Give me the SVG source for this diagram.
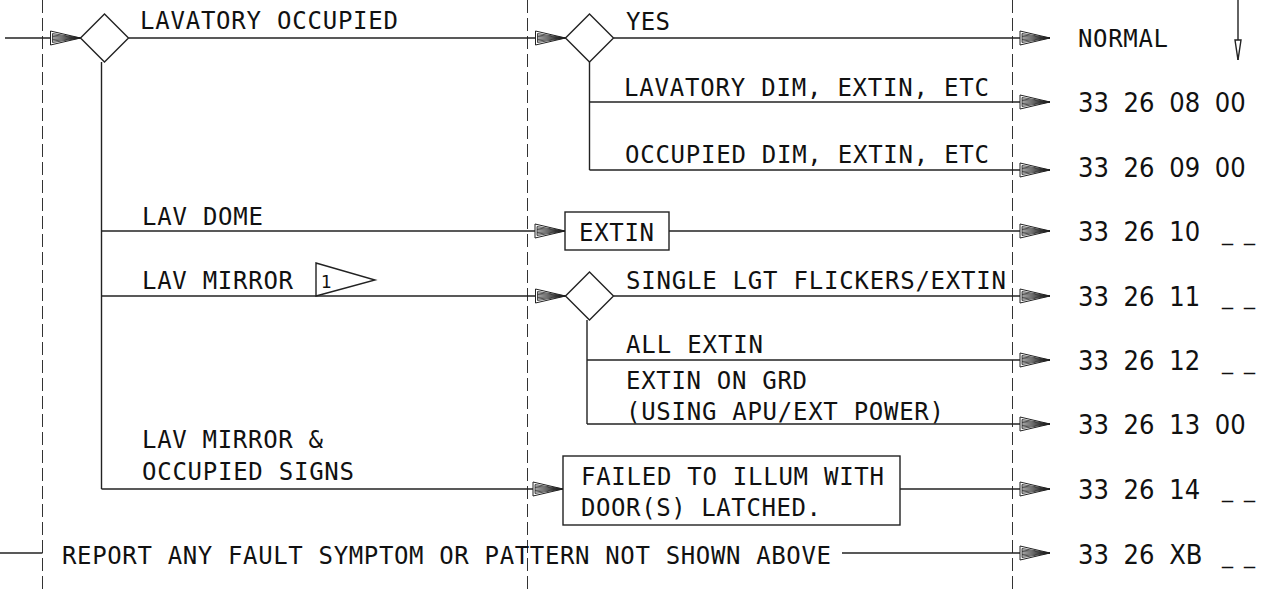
<svg xmlns="http://www.w3.org/2000/svg" width="1263" height="594" viewBox="0 0 1263 594">
<style>
.bg{fill:#ffffff}
.dash{stroke:#333;stroke-width:1;stroke-dasharray:13 5;fill:none}
.ln{stroke:#222;stroke-width:1.4;fill:none}
.shape{stroke:#222;stroke-width:1.4;fill:#ffffff}
.lbl{font-family:"DejaVu Sans Mono","Liberation Mono",monospace;font-size:24px;fill:#111}
.code{font-family:"DejaVu Sans Condensed","DejaVu Sans","Liberation Sans",sans-serif;font-size:27px;fill:#111;word-spacing:7px}
.us{font-family:"DejaVu Sans","Liberation Sans",sans-serif;font-size:22px;fill:#111}
.flag{font-family:"DejaVu Sans","Liberation Sans",sans-serif;font-size:17px;fill:#111}
</style>
<defs>
<marker id="arr" markerUnits="userSpaceOnUse" viewBox="0 0 32 16" refX="31" refY="8" markerWidth="32" markerHeight="16" orient="auto">
<path d="M1,1 L31,8 L1,15 Z" fill="#fff" stroke="#222" stroke-width="1"/>
<path d="M3,3.5 V12.5 M3,3.5 L31,8 M3,5 L31,8 M3,6.5 L31,8 M3,8 L31,8 M3,9.5 L31,8 M3,11 L31,8 M3,12.5 L31,8" fill="none" stroke="#222" stroke-width="0.8"/>
</marker>
</defs>
<rect class="bg" x="0" y="0" width="1263" height="594"/>

<g id="columns">
<line class="dash" x1="42.5" y1="0" x2="42.5" y2="594"/>
<line class="dash" x1="527.5" y1="0" x2="527.5" y2="594"/>
<line class="dash" x1="1012.5" y1="0" x2="1012.5" y2="594"/>
</g>

<g id="connectors">
<line class="ln" x1="5" y1="38" x2="80.5" y2="38" marker-end="url(#arr)"/>
<line class="ln" x1="128.5" y1="38" x2="565.5" y2="38" marker-end="url(#arr)"/>
<line class="ln" x1="613.5" y1="38" x2="1050" y2="38" marker-end="url(#arr)"/>
<line class="ln" x1="589.5" y1="62" x2="589.5" y2="170"/>
<line class="ln" x1="589.5" y1="102" x2="1050" y2="102" marker-end="url(#arr)"/>
<line class="ln" x1="589.5" y1="170" x2="1050" y2="170" marker-end="url(#arr)"/>
<line class="ln" x1="101.5" y1="62" x2="101.5" y2="489"/>
<line class="ln" x1="101.5" y1="231" x2="565" y2="231" marker-end="url(#arr)"/>
<line class="ln" x1="669" y1="231" x2="1050" y2="231" marker-end="url(#arr)"/>
<line class="ln" x1="101.5" y1="296" x2="565.5" y2="296" marker-end="url(#arr)"/>
<line class="ln" x1="613.5" y1="296" x2="1050" y2="296" marker-end="url(#arr)"/>
<line class="ln" x1="587" y1="320" x2="587" y2="424"/>
<line class="ln" x1="587" y1="360" x2="1050" y2="360" marker-end="url(#arr)"/>
<line class="ln" x1="587" y1="424" x2="1050" y2="424" marker-end="url(#arr)"/>
<line class="ln" x1="101.5" y1="489" x2="563" y2="489" marker-end="url(#arr)"/>
<line class="ln" x1="900" y1="489" x2="1050" y2="489" marker-end="url(#arr)"/>
<line class="ln" x1="0" y1="553" x2="42.5" y2="553"/>
<line class="ln" x1="842" y1="553" x2="1050" y2="553" marker-end="url(#arr)"/>
<line class="ln" x1="1238" y1="0" x2="1238" y2="60"/>
<polygon class="shape" points="1235,40 1241,40 1238,60"/>
</g>

<g id="d-lavatory-occupied">
<polygon class="shape" points="80.5,38 104.5,14 128.5,38 104.5,62"/>
<text class="lbl" x="140" y="29" textLength="258" lengthAdjust="spacing">LAVATORY OCCUPIED</text>
</g>

<g id="d-yes">
<polygon class="shape" points="565.5,38 589.5,14 613.5,38 589.5,62"/>
<text class="lbl" x="626" y="30" textLength="44" lengthAdjust="spacing">YES</text>
</g>

<g id="lbl-lav-dim">
<text class="lbl" x="624" y="96" textLength="365" lengthAdjust="spacing">LAVATORY DIM, EXTIN, ETC</text>
</g>
<g id="lbl-occ-dim">
<text class="lbl" x="625" y="163" textLength="364" lengthAdjust="spacing">OCCUPIED DIM, EXTIN, ETC</text>
</g>
<g id="lbl-lav-dome">
<text class="lbl" x="142" y="225" textLength="121" lengthAdjust="spacing">LAV DOME</text>
</g>
<g id="box-extin">
<rect class="shape" x="565" y="212" width="104" height="38"/>
<text class="lbl" x="579" y="241" textLength="75" lengthAdjust="spacing">EXTIN</text>
</g>
<g id="lbl-lav-mirror">
<text class="lbl" x="142" y="289" textLength="151" lengthAdjust="spacing">LAV MIRROR</text>
<polygon class="shape" points="316,263 375,280 316,296"/>
<text class="flag" x="321" y="288">1</text>
</g>
<g id="d-mirror">
<polygon class="shape" points="565.5,296 589.5,272 613.5,296 589.5,320"/>
<text class="lbl" x="626" y="289" textLength="380" lengthAdjust="spacing">SINGLE LGT FLICKERS/EXTIN</text>
</g>
<g id="lbl-all-extin">
<text class="lbl" x="626" y="353" textLength="137" lengthAdjust="spacing">ALL EXTIN</text>
</g>
<g id="lbl-extin-grd">
<text class="lbl" x="626" y="389" textLength="181" lengthAdjust="spacing">EXTIN ON GRD</text>
<text class="lbl" x="626" y="420" textLength="318" lengthAdjust="spacing">(USING APU/EXT POWER)</text>
</g>
<g id="lbl-mirror-occ">
<text class="lbl" x="142" y="448" textLength="181" lengthAdjust="spacing">LAV MIRROR &amp;</text>
<text class="lbl" x="142" y="480" textLength="212" lengthAdjust="spacing">OCCUPIED SIGNS</text>
</g>
<g id="box-failed">
<rect class="shape" x="563" y="456" width="337" height="69"/>
<text class="lbl" x="581" y="485" textLength="303" lengthAdjust="spacing">FAILED TO ILLUM WITH</text>
<text class="lbl" x="581" y="516" textLength="240" lengthAdjust="spacing">DOOR(S) LATCHED.</text>
</g>
<g id="lbl-report">
<text class="lbl" x="62" y="564" textLength="769" lengthAdjust="spacing">REPORT ANY FAULT SYMPTOM OR PATTERN NOT SHOWN ABOVE</text>
</g>

<g id="results">
<text class="lbl" x="1078" y="47" textLength="90" lengthAdjust="spacing">NORMAL</text>
<text class="code" x="1078" y="112">33 26 08 00</text>
<text class="code" x="1078" y="177">33 26 09 00</text>
<text class="code" x="1078" y="241">33 26 10</text>
<text class="us" x="1222" y="240" textLength="33" lengthAdjust="spacing">_ _</text>
<text class="code" x="1078" y="306">33 26 11</text>
<text class="us" x="1222" y="304" textLength="33" lengthAdjust="spacing">_ _</text>
<text class="code" x="1078" y="370">33 26 12</text>
<text class="us" x="1222" y="369" textLength="33" lengthAdjust="spacing">_ _</text>
<text class="code" x="1078" y="434">33 26 13 00</text>
<text class="code" x="1078" y="499">33 26 14</text>
<text class="us" x="1222" y="497" textLength="33" lengthAdjust="spacing">_ _</text>
<text class="code" x="1078" y="564">33 26 XB</text>
<text class="us" x="1222" y="563" textLength="33" lengthAdjust="spacing">_ _</text>
</g>
</svg>
